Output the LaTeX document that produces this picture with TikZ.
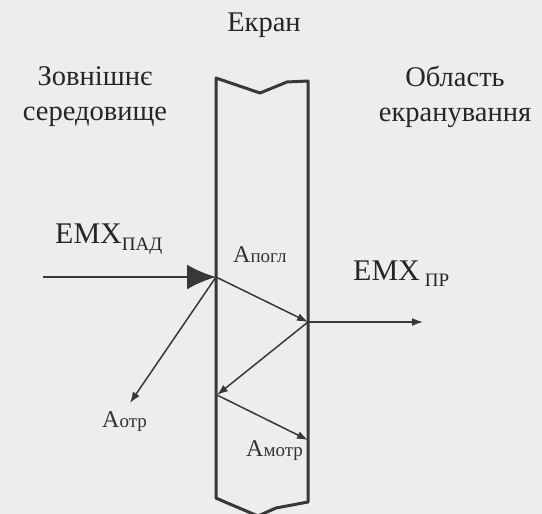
\documentclass[tikz,border=0pt]{standalone}
\usepackage{fontspec}
\setmainfont{Liberation Serif}
\usepackage{tikz}
\usetikzlibrary{arrows.meta, positioning}

\begin{document}
\begin{tikzpicture}[
        x=1pt, y=-1pt,
        >=Latex,
        ink/.style={draw=black!78},
        wall/.style={ink, line width=3pt, line join=round, line cap=round},
        ray/.style={ink, line width=1.5pt, -{Latex[length=11pt, width=8pt]}},
        bigray/.style={ink, line width=2.2pt, -{Latex[length=29pt, width=25pt]}},
        title/.style={text=black!85, font=\fontsize{28.5}{35}\selectfont, align=center, inner sep=0pt},
        wave/.style={text=black!85, font=\fontsize{30}{30}\selectfont, inner sep=0pt, anchor=base west},
        part/.style={text=black!80, font=\fontsize{24}{24}\selectfont, inner sep=0pt, anchor=base west}
    ]

    % Background
    \fill[white!93!black] (0,0) rectangle (542,514);
    \useasboundingbox (0,0) rectangle (542,514);

    % Screen
    \draw[wall] (216,498) -- (216,78) -- (260,93) -- (287,82) -- (308,81) -- (308,502);
    \draw[wall] (216,498) -- (225,502) -- (258,516) -- (276,508) -- (308,502);

    % Nodes
    \node[title] (ekran) at (264,25) {Екран};
    \node[title] (zovn) at (95,97) {Зовнішнє\\середовище};
    \node[title] (oblast) at (455,97) {Область\\екранування};

    \node[wave] (emx pad) at (55,243) {ЕМХ\raisebox{-7pt}{\fontsize{19}{19}\selectfont ПАД}};
    \node[wave] (emx pr) at (353,280) {ЕМХ\,\raisebox{-6pt}{\fontsize{19}{19}\selectfont ПР}};
    \node[part] (a pogl) at (233,262) {А{\fontsize{19}{19}\selectfont погл}};
    \node[part] (a otr) at (102,427) {А{\fontsize{19}{19}\selectfont отр}};
    \node[part] (a motr) at (246,456) {А{\fontsize{19}{19}\selectfont мотр}};

    % Points on the screen
    \coordinate (src) at (43,277);
    \coordinate (hit) at (216,277);
    \coordinate (out1) at (308,322);
    \coordinate (dst) at (423,322);
    \coordinate (back) at (130,403);
    \coordinate (in2) at (217,395);
    \coordinate (out2) at (308,440);

    % Arrows
    \draw[bigray] (src) -- (hit);
    \draw[ray] (hit) -- (out1);
    \draw[ray] (out1) -- (dst);
    \draw[ray] (hit) -- (back);
    \draw[ray] (out1) -- (in2);
    \draw[ray] (in2) -- (out2);

\end{tikzpicture}
\end{document}
